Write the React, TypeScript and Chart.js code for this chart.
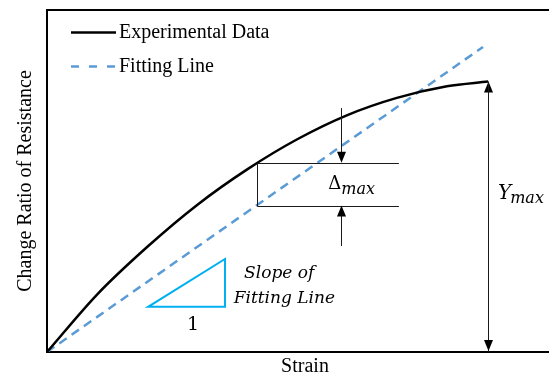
import { useEffect, useRef } from 'react';
import { Chart, registerables } from 'chart.js';

Chart.register(...registerables);

// Experimental curve (strain vs change ratio of resistance, arbitrary units 0-100)
const strainExp = [0, 9.7, 19.4, 29.1, 38.8, 48.5, 58.1, 67.8, 77.5, 85.5];
const resistanceExp = [0, 16.8, 30.7, 43.0, 53.4, 62.2, 69.2, 74.3, 77.7, 79.1];

// Linear fitting line
const strainFit = [0, 84.5];
const resistanceFit = [0, 89.2];

// Δmax construction
const deltaStrainRange = [40.7, 68.2];
const deltaLevels = [42.8, 55.3]; // fit value, experimental value at strain 40.7
const deltaArrowStrain = 57.0;
const deltaArrowTails = [31.0, 71.3];

// Ymax construction
const yMaxStrain = 85.5;
const yMaxRange = [0, 79.1];

// Slope triangle
const triangleStrain = [19.6, 34.5, 34.5];
const triangleResistance = [13.2, 13.2, 27.2];

const seriesLabels = ['Experimental Data', 'Fitting Line'];
const axisTitles = ['Strain', 'Change Ratio of Resistance'];

const SERIF = "'Liberation Serif', 'Times New Roman', serif";
const MATH = "'DejaVu Serif', serif";

function drawArrow(ctx: CanvasRenderingContext2D, x: number, yTail: number, yTip: number) {
  const dir = Math.sign(yTip - yTail);
  const cx = Math.round(x) + 0.5;
  ctx.beginPath();
  ctx.moveTo(cx, yTail);
  ctx.lineTo(cx, yTip - dir * 9);
  ctx.stroke();
  ctx.beginPath();
  ctx.moveTo(cx, yTip);
  ctx.lineTo(cx - 4.5, yTip - dir * 11);
  ctx.lineTo(cx + 4.5, yTip - dir * 11);
  ctx.closePath();
  ctx.fill();
}

const annotationPlugin = {
  id: 'sketchAnnotations',
  afterDatasetsDraw(chart: any) {
    const { ctx } = chart;
    const xs = chart.scales.x;
    const ys = chart.scales.y;
    const X = (v: number) => xs.getPixelForValue(v);
    const Y = (v: number) => ys.getPixelForValue(v);
    const crisp = (p: number) => Math.round(p) + 0.5;

    ctx.save();
    // Δ box
    ctx.strokeStyle = '#1a1a1a';
    ctx.fillStyle = '#000';
    ctx.lineWidth = 1;
    const bx0 = crisp(X(deltaStrainRange[0]));
    const bx1 = X(deltaStrainRange[1]);
    const yFit = crisp(Y(deltaLevels[0]));
    const yExp = crisp(Y(deltaLevels[1]));
    ctx.beginPath();
    ctx.moveTo(bx0, yExp);
    ctx.lineTo(bx1, yExp);
    ctx.moveTo(bx0, yFit);
    ctx.lineTo(bx1, yFit);
    ctx.moveTo(bx0, yExp);
    ctx.lineTo(bx0, yFit);
    ctx.stroke();

    // arrows
    drawArrow(ctx, X(deltaArrowStrain), Y(deltaArrowTails[1]), Y(deltaLevels[1]));
    drawArrow(ctx, X(deltaArrowStrain), Y(deltaArrowTails[0]), Y(deltaLevels[0]));
    drawArrow(ctx, X(yMaxStrain), Y(yMaxRange[0]), Y(yMaxRange[1]));
    drawArrow(ctx, X(yMaxStrain), Y(yMaxRange[1]), Y(yMaxRange[0]) - 1);

    // slope triangle
    ctx.strokeStyle = '#00B0F0';
    ctx.lineWidth = 2;
    ctx.beginPath();
    triangleStrain.forEach((s, i) => {
      const px = X(s);
      const py = Y(triangleResistance[i]);
      if (i === 0) ctx.moveTo(px, py);
      else ctx.lineTo(px, py);
    });
    ctx.closePath();
    ctx.stroke();

    // texts
    ctx.fillStyle = '#000';
    ctx.textBaseline = 'alphabetic';
    // Δmax
    ctx.textAlign = 'left';
    ctx.font = `18px ${MATH}`;
    const dx = X(54.5);
    const dy = Y(47.7);
    ctx.fillText('Δ', dx, dy);
    const dW = ctx.measureText('Δ').width;
    ctx.font = `italic 16px ${MATH}`;
    ctx.fillText('max', dx + dW, dy + 5);

    // Ymax
    ctx.font = `italic 20px ${MATH}`;
    const yx = X(87.4);
    const yy = Y(44.7);
    ctx.fillText('Y', yx, yy);
    const yW = ctx.measureText('Y').width;
    ctx.font = `italic 16px ${MATH}`;
    ctx.fillText('max', yx + yW - 1, yy + 4);

    // slope text
    ctx.textAlign = 'center';
    ctx.font = `italic 17px ${MATH}`;
    ctx.fillText('Slope of', X(45.0), Y(21.6));
    ctx.fillText('Fitting Line', X(46.0), Y(14.3));
    ctx.font = `19px ${MATH}`;
    ctx.fillText('1', X(28.3), Y(6.4));
    ctx.restore();
  },
  afterDraw(chart: any) {
    const { ctx, chartArea } = chart;
    ctx.save();
    const rows = [32, 66];
    chart.data.datasets.forEach((ds: any, i: number) => {
      const y = rows[i] + 0.5;
      const x0 = chartArea.left + 24;
      const x1 = chartArea.left + 69;
      ctx.strokeStyle = ds.borderColor;
      ctx.lineWidth = ds.borderWidth;
      ctx.setLineDash(i === 1 ? [8, 10] : []);
      ctx.beginPath();
      ctx.moveTo(x0, y);
      ctx.lineTo(x1, y);
      ctx.stroke();
      ctx.setLineDash([]);
      ctx.fillStyle = '#000';
      ctx.font = `20px ${SERIF}`;
      ctx.textAlign = 'left';
      ctx.textBaseline = 'alphabetic';
      ctx.fillText(ds.label, x1 + 3, rows[i] + 6);
    });
    ctx.restore();
  },
};

export default function App() {
  const canvasRef = useRef<HTMLCanvasElement | null>(null);

  useEffect(() => {
    const canvas = canvasRef.current;
    if (!canvas) return;
    const chart = new Chart(canvas, {
      type: 'line',
      data: {
        datasets: [
          {
            label: seriesLabels[0],
            data: strainExp.map((x, i) => ({ x, y: resistanceExp[i] })),
            borderColor: '#000000',
            borderWidth: 2.5,
            pointRadius: 0,
            cubicInterpolationMode: 'monotone',
            fill: false,
          },
          {
            label: seriesLabels[1],
            data: strainFit.map((x, i) => ({ x, y: resistanceFit[i] })),
            borderColor: '#5B9BD5',
            borderWidth: 2.5,
            borderDash: [9, 6],
            pointRadius: 0,
            fill: false,
          },
        ],
      },
      options: {
        animation: false,
        responsive: false,
        devicePixelRatio: 1,
        layout: { padding: { top: 10, left: 0, right: 0, bottom: 0 } },
        plugins: {
          legend: { display: false },
          tooltip: { enabled: false },
        },
        scales: {
          x: {
            type: 'linear',
            min: 0,
            max: 100,
            ticks: { display: false },
            grid: { display: false, drawTicks: false },
            border: { color: '#000', width: 2 },
            title: {
              display: true,
              text: axisTitles[0],
              color: '#000',
              font: { family: SERIF, size: 20, lineHeight: 1 },
              padding: { top: 0, bottom: 0 },
            },
            afterFit: (s: any) => {
              s.height = 25;
            },
          },
          xTop: {
            type: 'linear',
            position: 'top',
            min: 0,
            max: 100,
            ticks: { display: false },
            grid: { display: false, drawTicks: false },
            border: { color: '#000', width: 2 },
            afterFit: (s: any) => {
              s.height = 0;
            },
          },
          y: {
            type: 'linear',
            min: 0,
            max: 100,
            ticks: { display: false },
            grid: { display: false, drawTicks: false },
            border: { color: '#000', width: 2 },
            title: {
              display: true,
              text: axisTitles[1],
              color: '#000',
              font: { family: SERIF, size: 20, lineHeight: 1 },
              padding: { top: 16, bottom: 0 },
            },
            afterFit: (s: any) => {
              s.width = 47;
            },
          },
        },
      },
      plugins: [annotationPlugin],
    } as any);
    return () => chart.destroy();
  }, []);

  return (
    <div
      style={{
        position: 'absolute',
        left: 0,
        top: 0,
        width: 549,
        height: 377,
        overflow: 'hidden',
        background: '#fff',
      }}
    >
      <canvas ref={canvasRef} width={563} height={377} style={{ display: 'block' }} />
    </div>
  );
}
